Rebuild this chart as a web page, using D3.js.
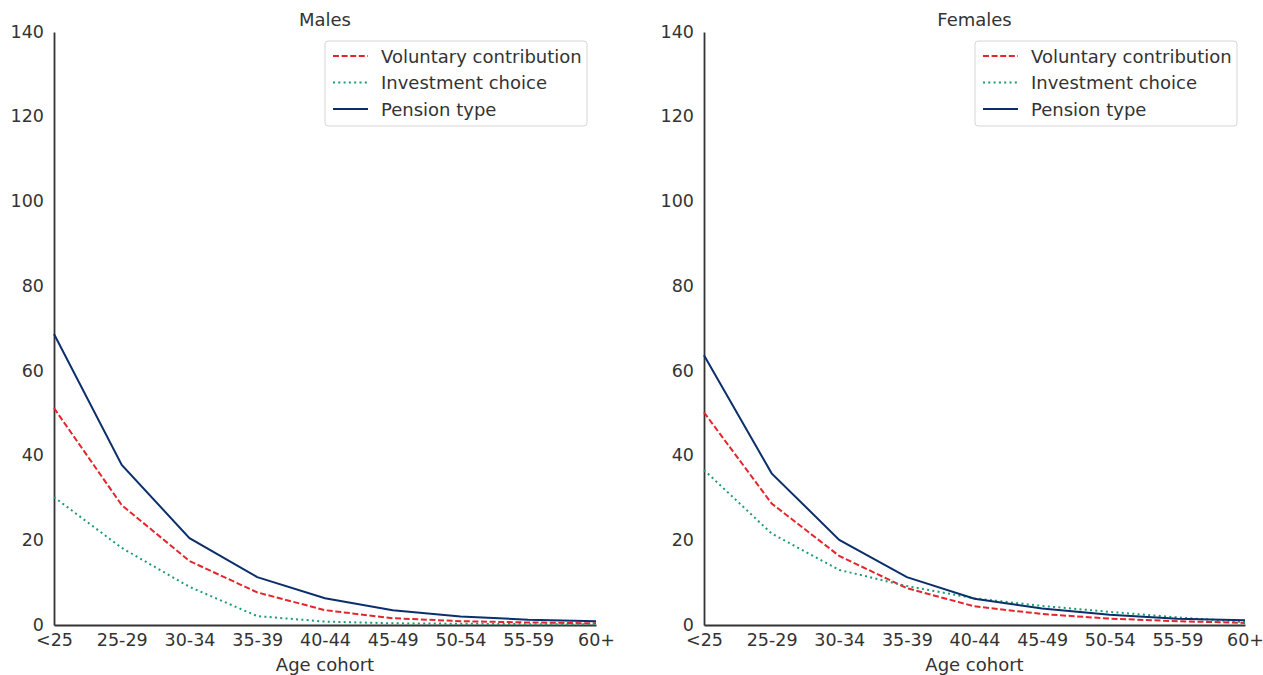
<!DOCTYPE html>
<html><head><meta charset="utf-8">
<script src="https://cdn.jsdelivr.net/npm/d3@7"></script>
<style>body{margin:0;background:#fff;} text{font-family:"DejaVu Sans",sans-serif;fill:#333333;}</style>
</head><body>
<svg id="c" width="1263" height="675"></svg>
<script>
const categories = ["<25","25-29","30-34","35-39","40-44","45-49","50-54","55-59","60+"];
const yTicks = [0,20,40,60,80,100,120,140];
const seriesNames = ["Voluntary contribution","Investment choice","Pension type"];
const malesVoluntary = [51.2,28.3,15.1,7.7,3.5,1.6,0.9,0.6,0.4];
const malesInvestment = [30.2,18.2,9.0,2.1,0.8,0.4,0.3,0.2,0.2];
const malesPension = [68.7,37.8,20.5,11.3,6.3,3.5,2.0,1.25,0.9];
const femalesVoluntary = [50.2,28.7,16.3,8.7,4.4,2.6,1.5,0.9,0.5];
const femalesInvestment = [36.6,21.6,13.0,9.2,6.3,4.5,3.1,1.8,0.7];
const femalesPension = [63.7,35.8,20.1,11.3,6.2,3.9,2.4,1.5,1.1];

const colors = ["#e3262b","#1a9c74","#0b2f6b"];
const dashes = ["6,2.6","2,3.3",null];

const panels = [
  {title:"Males", x0:54, x1:596, data:[malesVoluntary,malesInvestment,malesPension]},
  {title:"Females", x0:704, x1:1245, data:[femalesVoluntary,femalesInvestment,femalesPension]}
];
const svg = d3.select("#c");
const yTop = 32, yBot = 625;

panels.forEach(p => {
  const x = d3.scalePoint().domain(categories).range([p.x0, p.x1]);
  const y = d3.scaleLinear().domain([0,140]).range([yBot, yTop]);
  const g = svg.append("g");

  const yAxis = g.append("g").attr("transform",`translate(${p.x0},0)`)
    .call(d3.axisLeft(y).tickValues(yTicks).tickSize(0).tickPadding(10).tickFormat(d3.format("d")));
  yAxis.select(".domain").attr("stroke","#333333").attr("stroke-width",1.8);
  yAxis.selectAll("text").style("font-size","17.5px").attr("dy","0.3em");

  const xAxis = g.append("g").attr("transform",`translate(0,${yBot})`)
    .call(d3.axisBottom(x).tickSize(0).tickPadding(9));
  xAxis.select(".domain").attr("stroke","#333333").attr("stroke-width",1.8);
  xAxis.selectAll("text").style("font-size","17.5px");

  g.append("text").attr("x",(p.x0+p.x1)/2).attr("y",671)
    .attr("text-anchor","middle").style("font-size","18px").text("Age cohort");
  g.append("text").attr("x",(p.x0+p.x1)/2).attr("y",26)
    .attr("text-anchor","middle").style("font-size","18px").text(p.title);

  const line = d3.line().x((d,i)=>x(categories[i])).y(d=>y(d));
  p.data.forEach((s,k) => {
    g.append("path").datum(s).attr("d",line).attr("fill","none")
      .attr("stroke",colors[k]).attr("stroke-width",2)
      .attr("stroke-dasharray",dashes[k]);
  });

  // legend
  const lx = p.x0 + 271, ly = 41;
  const lg = g.append("g");
  lg.append("rect").attr("x",lx).attr("y",ly).attr("width",262).attr("height",85)
    .attr("rx",3).attr("fill","#fff").attr("stroke","#d6d6d6").attr("stroke-width",1);
  seriesNames.forEach((n,k) => {
    const yy = ly + 15 + k*26.5;
    lg.append("line").attr("x1",lx+8).attr("x2",lx+43).attr("y1",yy).attr("y2",yy)
      .attr("stroke",colors[k]).attr("stroke-width",2).attr("stroke-dasharray",dashes[k]);
    lg.append("text").attr("x",lx+56).attr("y",yy+6.5).style("font-size","18px").text(n);
  });
});
</script>
</body></html>
